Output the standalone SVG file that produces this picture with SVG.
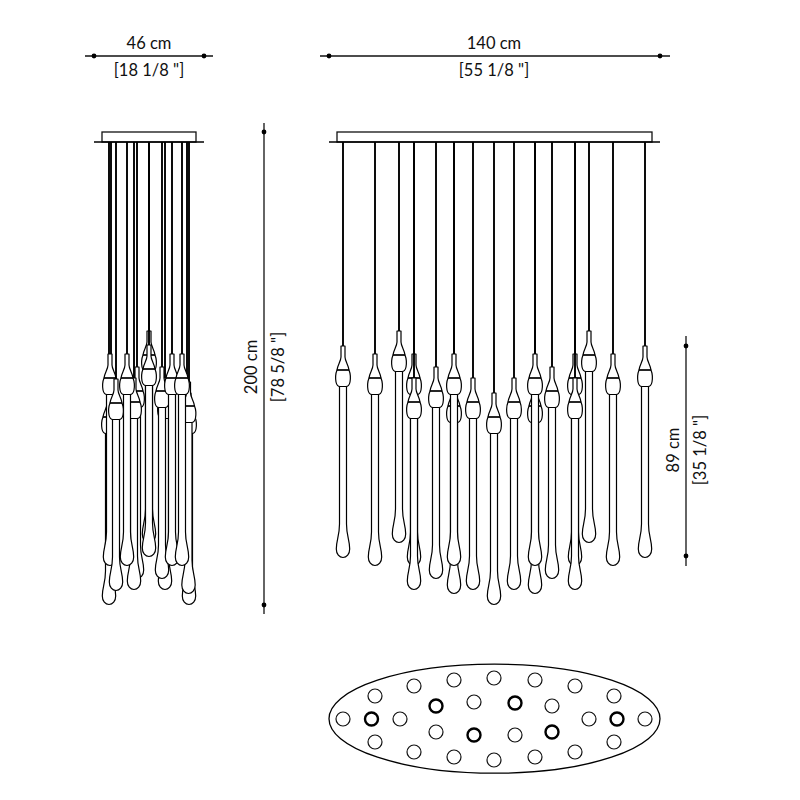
<svg xmlns="http://www.w3.org/2000/svg" xmlns:xlink="http://www.w3.org/1999/xlink" width="800" height="800" viewBox="0 0 800 800">
<style>
text{font-family:"Lato","Liberation Sans",sans-serif;font-size:16.500px;fill:#111;text-anchor:middle}
.dim{stroke:#111;stroke-width:1.3;fill:none}
.dot{fill:#000}
.cb{stroke:#000;stroke-width:1.9;fill:none}
.can{fill:#fff;stroke:#111;stroke-width:1.3}
.base{stroke:#000;stroke-width:1.4;fill:none}
.o{fill:#fff;stroke:#111;stroke-width:1.2}
.h{fill:#fff;stroke:#000;stroke-width:2.4}
.pb{fill:#fff;stroke:#000;stroke-width:1.2;stroke-linejoin:round}
.pt{fill:#fff;stroke:#000;stroke-width:1.2}
.bd{stroke:#000;stroke-width:1.7;fill:none}
</style>
<defs>
<g id="p">
<path class="pt" d="M-3.500,39V178C-3.500,190-6.700,194-6.700,203C-6.700,208-3.600,211.500 0,211.500C3.600,211.500 6.700,208 6.700,203C6.700,194 3.500,190 3.500,178V39Z"/>
<path class="pb" d="M-2,0H2V11C2,15 5.500,19 6,24C7.200,27 7.500,33 7,36C6.400,39 5,40.500 3,40.500H-3C-5,40.500-6.400,39-7,36C-7.500,33-7.200,27-6,24C-5.500,19-2,15-2,11Z"/>
<line class="bd" x1="-6" y1="24" x2="6" y2="24"/>
</g>
</defs>
<g id="dimensions">
<line class="dim" x1="85" y1="56" x2="213" y2="56"/><circle class="dot" cx="94" cy="56" r="2.400"/><circle class="dot" cx="204" cy="56" r="2.400"/>
<line class="dim" x1="320" y1="56" x2="670" y2="56"/><circle class="dot" cx="329" cy="56" r="2.400"/><circle class="dot" cx="660" cy="56" r="2.400"/>
<line class="dim" x1="264" y1="123" x2="264" y2="614"/><circle class="dot" cx="264" cy="132" r="2.400"/><circle class="dot" cx="264" cy="605" r="2.400"/>
<line class="dim" x1="686" y1="336" x2="686" y2="566"/><circle class="dot" cx="686" cy="346" r="2.400"/><circle class="dot" cx="686" cy="556" r="2.400"/>
<text x="149" y="48.500">46 cm</text>
<text x="149" y="76">[18 1/8 "]</text>
<text x="494" y="48.500">140 cm</text>
<text x="494" y="76">[55 1/8 "]</text>
<text transform="translate(256.500,367) rotate(-90)">200 cm</text>
<text transform="translate(284,367) rotate(-90)">[78 5/8 "]</text>
<text transform="translate(678.500,450) rotate(-90)">89 cm</text>
<text transform="translate(706,450) rotate(-90)">[35 1/8 "]</text>
</g>
<g id="side-view">
<g id="side-canopy"><rect class="can" x="102" y="132" width="94" height="10"/><line class="base" x1="94" y1="142" x2="204" y2="142"/></g>
<g id="s1"><line class="cb" x1="109" y1="142" x2="109" y2="393"/><use href="#p" x="109" y="393"/></g>
<g id="s2"><line class="cb" x1="189" y1="142" x2="189" y2="393"/><use href="#p" x="189" y="393"/></g>
<g id="s4"><line class="cb" x1="149" y1="142" x2="149" y2="331"/><use href="#p" x="149" y="331"/></g>
<g id="s5"><line class="cb" x1="137" y1="142" x2="137" y2="367"/><use href="#p" x="137" y="367"/></g>
<g id="s6"><line class="cb" x1="165" y1="142" x2="165" y2="378"/><use href="#p" x="165" y="378"/></g>
<g id="s7"><line class="cb" x1="134" y1="142" x2="134" y2="378"/><use href="#p" x="134" y="378"/></g>
<g id="s8"><line class="cb" x1="111" y1="142" x2="111" y2="354"/><use href="#p" x="110" y="354"/></g>
<g id="s9"><line class="cb" x1="127" y1="142" x2="127" y2="354"/><use href="#p" x="127" y="354"/></g>
<g id="s10"><line class="cb" x1="116" y1="142" x2="116" y2="379"/><use href="#p" x="116" y="379"/></g>
<g id="s11"><line class="cb" x1="149" y1="142" x2="149" y2="345"/><use href="#p" x="149" y="345"/></g>
<g id="s12"><line class="cb" x1="162" y1="142" x2="162" y2="367"/><use href="#p" x="162" y="367"/></g>
<g id="s3"><line class="cb" x1="187" y1="142" x2="187" y2="382"/><use href="#p" x="188.500" y="382"/></g>
<g id="s13"><line class="cb" x1="172" y1="142" x2="172" y2="354"/><use href="#p" x="172" y="354"/></g>
<g id="s14"><line class="cb" x1="182" y1="142" x2="182" y2="354"/><use href="#p" x="182" y="354"/></g>
</g>
<g id="front-view">
<g id="front-canopy"><rect class="can" x="337" y="132" width="315" height="10"/><line class="base" x1="329" y1="142" x2="660" y2="142"/></g>
<g id="f1"><line class="cb" x1="343" y1="142" x2="343" y2="346"/><use href="#p" x="343" y="346"/></g>
<g id="f2"><line class="cb" x1="375" y1="142" x2="375" y2="354"/><use href="#p" x="375" y="354"/></g>
<g id="f3"><line class="cb" x1="399" y1="142" x2="399" y2="331"/><use href="#p" x="399" y="331"/></g>
<g id="f4b"><line class="cb" x1="414" y1="142" x2="414" y2="354"/><use href="#p" x="414" y="354"/></g>
<g id="f4"><line class="cb" x1="414" y1="142" x2="414" y2="378"/><use href="#p" x="414" y="378"/></g>
<g id="f5"><line class="cb" x1="436" y1="142" x2="436" y2="367"/><use href="#p" x="436" y="367"/></g>
<g id="f6b"><line class="cb" x1="454" y1="142" x2="454" y2="382"/><use href="#p" x="454" y="382"/></g>
<g id="f6"><line class="cb" x1="454" y1="142" x2="454" y2="354"/><use href="#p" x="454" y="354"/></g>
<g id="f7"><line class="cb" x1="473" y1="142" x2="473" y2="378"/><use href="#p" x="473" y="378"/></g>
<g id="f8"><line class="cb" x1="494" y1="142" x2="494" y2="393"/><use href="#p" x="494" y="393"/></g>
<g id="f9"><line class="cb" x1="514" y1="142" x2="514" y2="378"/><use href="#p" x="514" y="378"/></g>
<g id="f10b"><line class="cb" x1="535" y1="142" x2="535" y2="382"/><use href="#p" x="535" y="382"/></g>
<g id="f10"><line class="cb" x1="535" y1="142" x2="535" y2="354"/><use href="#p" x="535" y="354"/></g>
<g id="f11"><line class="cb" x1="552" y1="142" x2="552" y2="367"/><use href="#p" x="552" y="367"/></g>
<g id="f12b"><line class="cb" x1="575" y1="142" x2="575" y2="354"/><use href="#p" x="575" y="354"/></g>
<g id="f12"><line class="cb" x1="575" y1="142" x2="575" y2="378"/><use href="#p" x="575" y="378"/></g>
<g id="f13"><line class="cb" x1="589" y1="142" x2="589" y2="331"/><use href="#p" x="589" y="331"/></g>
<g id="f14"><line class="cb" x1="613" y1="142" x2="613" y2="354"/><use href="#p" x="613" y="354"/></g>
<g id="f15"><line class="cb" x1="645" y1="142" x2="645" y2="346"/><use href="#p" x="645" y="346"/></g>
</g>
<g id="plan-view">
<ellipse cx="494.500" cy="718.700" rx="165.500" ry="54.500" fill="none" stroke="#000" stroke-width="1.300"/>
<g class="o">
<circle cx="343" cy="719" r="7"/><circle cx="400" cy="719" r="7"/><circle cx="375" cy="696" r="7"/><circle cx="375" cy="742" r="7"/>
<circle cx="414" cy="686" r="7"/><circle cx="414" cy="752" r="7"/><circle cx="454" cy="680" r="7"/><circle cx="454" cy="757" r="7"/>
<circle cx="494" cy="678" r="7"/><circle cx="494" cy="760" r="7"/><circle cx="535" cy="680" r="7"/><circle cx="535" cy="757" r="7"/>
<circle cx="575" cy="686" r="7"/><circle cx="575" cy="752" r="7"/><circle cx="614" cy="696" r="7"/><circle cx="614" cy="742" r="7"/>
<circle cx="589" cy="719" r="7"/><circle cx="645" cy="719" r="7"/><circle cx="436" cy="732" r="7"/><circle cx="474" cy="702" r="7"/>
<circle cx="515" cy="735" r="7"/><circle cx="552" cy="706" r="7"/>
</g>
<g class="h">
<circle cx="371.500" cy="719" r="6.500"/><circle cx="617" cy="719" r="6.500"/><circle cx="436" cy="706" r="6.500"/><circle cx="474" cy="735" r="6.500"/><circle cx="515" cy="703" r="6.500"/><circle cx="552" cy="732" r="6.500"/>
</g>
</g>
</svg>
